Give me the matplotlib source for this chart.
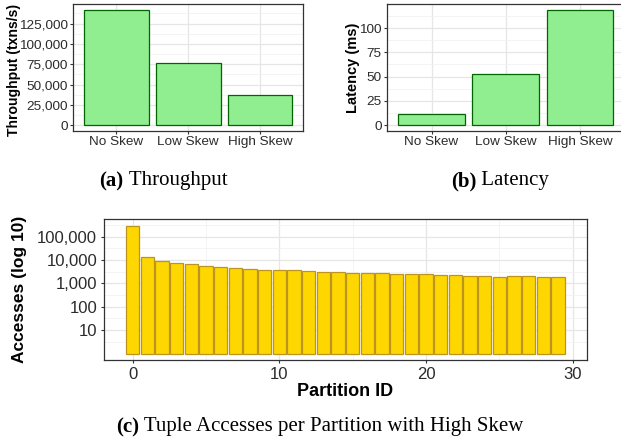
import numpy as np
import matplotlib
matplotlib.use('Agg')
import matplotlib.pyplot as plt
from matplotlib.ticker import FuncFormatter, FixedLocator

skews = ['No Skew', 'Low Skew', 'High Skew']
throughput = [141700, 76500, 37200]
latency = [11.3, 53, 118.5]

partition_ids = list(range(30))
accesses = [292000, 13500, 9400, 7600, 6450, 5500, 5000, 4500, 4100, 3850,
            3700, 3580, 3350, 3150, 2950, 2850, 2750, 2660, 2500, 2500,
            2420, 2270, 2260, 2120, 2050, 1930, 2050, 1980, 1930, 1870]

W, H = 621, 441
SANS = 'Liberation Sans'
SERIF = 'Liberation Serif'
TICK_C = '#2B2B2B'
BORDER_C = '#333333'


def px_axes(fig, left, right, top, bottom):
    return fig.add_axes([left / W, 1 - bottom / H, (right - left) / W, (bottom - top) / H])


def style_axes(ax, size, pad):
    ax.set_axisbelow(True)
    for s in ax.spines.values():
        s.set_color(BORDER_C)
        s.set_linewidth(0.9)
    ax.grid(which='major', color='#E6E6E6', linewidth=0.9)
    ax.grid(which='minor', color='#F2F2F2', linewidth=0.6)
    ax.tick_params(which='major', length=2.3, width=0.8, color=BORDER_C,
                   labelsize=size, labelcolor=TICK_C, pad=pad)
    ax.tick_params(which='minor', length=0)
    for lab in ax.get_xticklabels() + ax.get_yticklabels():
        lab.set_fontfamily(SANS)


def comma(v, pos=None):
    return '{:,}'.format(int(round(v)))


def caption(fig, xc, yc, bold, rest, size=15):
    # bold "(x)" followed by plain text, centred as a whole on xc
    r = fig.canvas.get_renderer()
    t1 = fig.text(0, 1 - yc / H, bold, family=SERIF, weight='bold', size=size, va='center')
    t2 = fig.text(0, 1 - yc / H, rest, family=SERIF, size=size, va='center')
    w1 = t1.get_window_extent(r).width
    w2 = t2.get_window_extent(r).width
    x0 = xc - (w1 + w2) / 2
    t1.set_x(x0 / W)
    t2.set_x((x0 + w1) / W)


fig = plt.figure(figsize=(W / 100, H / 100), dpi=100)

# (a) throughput
ax1 = px_axes(fig, 73.2, 303.2, 4.3, 131)
x = np.arange(1, 4)
ax1.bar(x, throughput, width=0.9, color='#90EE90', edgecolor='#006400', linewidth=0.9)
ax1.set_xlim(0.4, 3.6)
ax1.set_ylim(-0.05 * max(throughput), 1.05 * max(throughput))
ax1.set_xticks(x)
ax1.set_xticklabels(skews)
ax1.set_yticks([0, 25000, 50000, 75000, 100000, 125000])
ax1.yaxis.set_minor_locator(FixedLocator(np.arange(12500, 150000, 25000)))
ax1.yaxis.set_major_formatter(FuncFormatter(comma))
style_axes(ax1, 9.7, 1.5)
fig.text(14 / W, 1 - 70 / H, 'Throughput (txns/s)', rotation=90, ha='center', va='center',
         family=SANS, weight='bold', size=10.1)

# (b) latency
ax2 = px_axes(fig, 387, 624.4, 4.3, 131)
ax2.bar(x, latency, width=0.9, color='#90EE90', edgecolor='#006400', linewidth=0.9)
ax2.set_xlim(0.4, 3.6)
ax2.set_ylim(-0.05 * max(latency), 1.05 * max(latency))
ax2.set_xticks(x)
ax2.set_xticklabels(skews)
ax2.set_yticks([0, 25, 50, 75, 100])
ax2.yaxis.set_minor_locator(FixedLocator(np.arange(12.5, 125, 25)))
style_axes(ax2, 9.7, 1.5)
fig.text(352.7 / W, 1 - 67.5 / H, 'Latency (ms)', rotation=90, ha='center', va='center',
         family=SANS, weight='bold', size=10.5)

# (c) accesses per partition
ax3 = px_axes(fig, 104.2, 586.6, 219.3, 360)
acc = np.array(accesses, dtype=float)
ax3.bar(partition_ids, acc - 1, bottom=1, width=0.9, color='#FFD700',
        edgecolor='#BE9420', linewidth=0.9)
ax3.set_yscale('log')
top = np.log10(acc.max())
ax3.set_ylim(10 ** (-0.05 * top), 10 ** (1.05 * top))
ax3.set_xlim(-0.45 - 0.05 * 29.9, 29.45 + 0.05 * 29.9)
ax3.set_yticks([10, 100, 1000, 10000, 100000])
ax3.yaxis.set_major_formatter(FuncFormatter(comma))
ax3.yaxis.set_minor_locator(FixedLocator(10 ** np.arange(0.5, 6, 1.0)))
ax3.set_xticks([0, 10, 20, 30])
ax3.xaxis.set_minor_locator(FixedLocator([5, 15, 25]))
style_axes(ax3, 12, 2.8)
fig.text(20 / W, 1 - 289.5 / H, 'Accesses (log 10)', rotation=90, ha='center', va='center',
         family=SANS, weight='bold', size=12.5)
fig.text(345.4 / W, 1 - 392 / H, 'Partition ID', ha='center', va='center',
         family=SANS, weight='bold', size=13)

caption(fig, 163.5, 181, '(a)', ' Throughput')
caption(fig, 500, 181, '(b)', ' Latency')
caption(fig, 320, 427, '(c)', ' Tuple Accesses per Partition with High Skew')

fig.savefig('out.png', dpi=100)
